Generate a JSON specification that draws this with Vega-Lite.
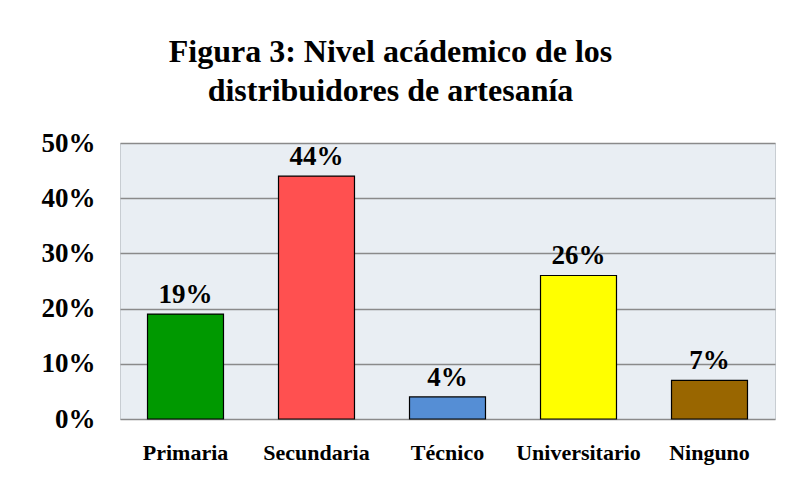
{
  "$schema": "https://vega.github.io/schema/vega-lite/v6.json",
  "width": 655,
  "height": 276,
  "autosize": {"type": "none"},
  "padding": {"left": 120, "top": 143, "right": 10, "bottom": 65},
  "background": "white",
  "title": {
    "text": ["Figura 3: Nivel acádemico de los", "distribuidores de artesanía"],
    "font": "Liberation Serif",
    "fontSize": 32,
    "fontWeight": "bold",
    "color": "black",
    "anchor": "middle",
    "frame": "group",
    "dx": -57,
    "offset": 21,
    "lineHeight": 39
  },
  "config": {
    "view": {"fill": "#E9EEF3", "stroke": "#C8CDD2", "strokeWidth": 1}
  },
  "data": {
    "values": [
      {"nivel": "Primaria", "pct": 0.19, "label": "19%"},
      {"nivel": "Secundaria", "pct": 0.44, "label": "44%"},
      {"nivel": "Técnico", "pct": 0.04, "label": "4%"},
      {"nivel": "Universitario", "pct": 0.26, "label": "26%"},
      {"nivel": "Ninguno", "pct": 0.07, "label": "7%"}
    ]
  },
  "encoding": {
    "x": {
      "field": "nivel",
      "type": "nominal",
      "sort": null,
      "scale": {"paddingInner": 0.42, "paddingOuter": 0.21},
      "axis": {
        "title": null,
        "labelAngle": 0,
        "labelFont": "Liberation Serif",
        "labelFontSize": 22,
        "labelFontWeight": "bold",
        "labelColor": "black",
        "labelPadding": 23,
        "ticks": false,
        "domain": false,
        "grid": false
      }
    },
    "y": {
      "field": "pct",
      "type": "quantitative",
      "scale": {"domain": [0, 0.5]},
      "axis": {
        "title": null,
        "format": ".0%",
        "values": [0, 0.1, 0.2, 0.3, 0.4, 0.5],
        "labelFont": "Liberation Serif",
        "labelFontSize": 27,
        "labelFontWeight": "bold",
        "labelColor": "black",
        "labelPadding": 25,
        "ticks": false,
        "domain": false,
        "grid": true,
        "gridColor": "#8A8A8A",
        "gridWidth": 1.5
      }
    }
  },
  "layer": [
    {
      "mark": {"type": "bar", "stroke": "black", "strokeWidth": 1.2},
      "encoding": {
        "color": {
          "field": "nivel",
          "type": "nominal",
          "sort": null,
          "scale": {
            "domain": ["Primaria", "Secundaria", "Técnico", "Universitario", "Ninguno"],
            "range": ["#009900", "#FF5050", "#558ED5", "#FFFF00", "#996600"]
          },
          "legend": null
        }
      }
    },
    {
      "mark": {
        "type": "text",
        "font": "Liberation Serif",
        "fontSize": 27,
        "fontWeight": "bold",
        "color": "black",
        "baseline": "alphabetic",
        "dy": -11
      },
      "encoding": {"text": {"field": "label"}}
    }
  ]
}
